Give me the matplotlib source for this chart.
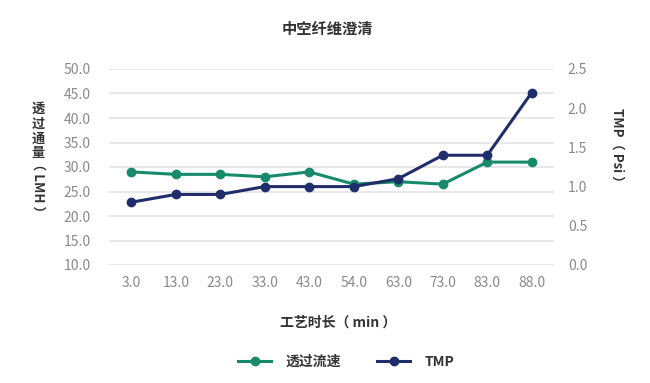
import matplotlib
matplotlib.use("Agg")
import matplotlib.pyplot as plt
from matplotlib.lines import Line2D

plt.rcParams['font.family'] = ['Noto Sans CJK SC', 'DejaVu Sans']

categories = ["3.0", "13.0", "23.0", "33.0", "43.0", "54.0", "63.0", "73.0", "83.0", "88.0"]
flux = [29.0, 28.5, 28.5, 28.0, 29.0, 26.5, 27.0, 26.5, 31.0, 31.0]
tmp = [0.8, 0.9, 0.9, 1.0, 1.0, 1.0, 1.1, 1.4, 1.4, 2.2]
left_ticks = [10, 15, 20, 25, 30, 35, 40, 45, 50]
right_ticks = [0.0, 0.5, 1.0, 1.5, 2.0, 2.5]

green = '#178a6c'
navy = '#1f2d6b'
tick_color = '#8a8a8a'
text_color = '#333333'

W, H = 650, 383
fig = plt.figure(figsize=(W / 100, H / 100), dpi=100)
ax = fig.add_axes([109 / W, 1 - 265 / H, 445 / W, 196 / H])
ax2 = ax.twinx()

x = list(range(len(categories)))
ax.plot(x, flux, color=green, lw=2.2, marker='o', ms=6, zorder=3, clip_on=False)
ax2.plot(x, tmp, color=navy, lw=2.2, marker='o', ms=6, zorder=3, clip_on=False)

ax.set_xlim(-0.5, len(categories) - 0.5)
ax.set_ylim(10, 50)
ax2.set_ylim(0, 2.5)
ax.set_yticks(left_ticks)
ax.set_yticklabels([f"{v:.1f}" for v in left_ticks])
ax2.set_yticks(right_ticks)
ax2.set_yticklabels([f"{v:.1f}" for v in right_ticks])
ax.set_xticks(x)
ax.set_xticklabels(categories)

for a in (ax, ax2):
    for s in a.spines.values():
        s.set_visible(False)
    a.tick_params(length=0, colors=tick_color, labelsize=10)
ax.tick_params(axis='y', pad=13)
ax2.tick_params(axis='y', pad=10)
ax.tick_params(axis='x', pad=8)
ax.grid(axis='y', color='#e4e4e4', lw=1.2)
ax.set_axisbelow(True)
ax2.set_zorder(ax.get_zorder() + 1)
ax2.patch.set_visible(False)

fig.text(327 / W, 1 - 29 / H, "中空纤维澄清", ha='center', va='center',
         fontsize=11, color=text_color, fontweight='bold')
fig.text(338 / W, 1 - 323 / H, "工艺时长（ min ）", ha='center', va='center',
         fontsize=10, color=text_color, fontweight='bold')

# left vertical label
fig.text(38 / W, 1 - 131 / H, "透\n过\n通\n量", ha='center', va='center',
         fontsize=9.5, color=text_color, fontweight='bold', linespacing=1.05)
fig.text(38 / W, 1 - 188 / H, "（ LMH ）", ha='center', va='center', rotation=-90,
         fontsize=9.5, color=text_color, fontweight='bold')
# right label
fig.text(617 / W, 1 - 148 / H, "TMP（ Psi ）", ha='center', va='center', rotation=-90,
         fontsize=9.5, color=text_color, fontweight='bold')

# legend
handles = [Line2D([0], [0], color=green, lw=2.2, marker='o', ms=6),
           Line2D([0], [0], color=navy, lw=2.2, marker='o', ms=6)]
fig.legend(handles, ["透过流速", "TMP"], loc='center', bbox_to_anchor=(346 / W, 1 - 362 / H),
           ncol=2, frameon=False, handlelength=2.4, columnspacing=2.6,
           handletextpad=1.0, labelcolor=text_color, prop={'weight': 'bold', 'size': 10})

fig.savefig("out.png", dpi=100)
